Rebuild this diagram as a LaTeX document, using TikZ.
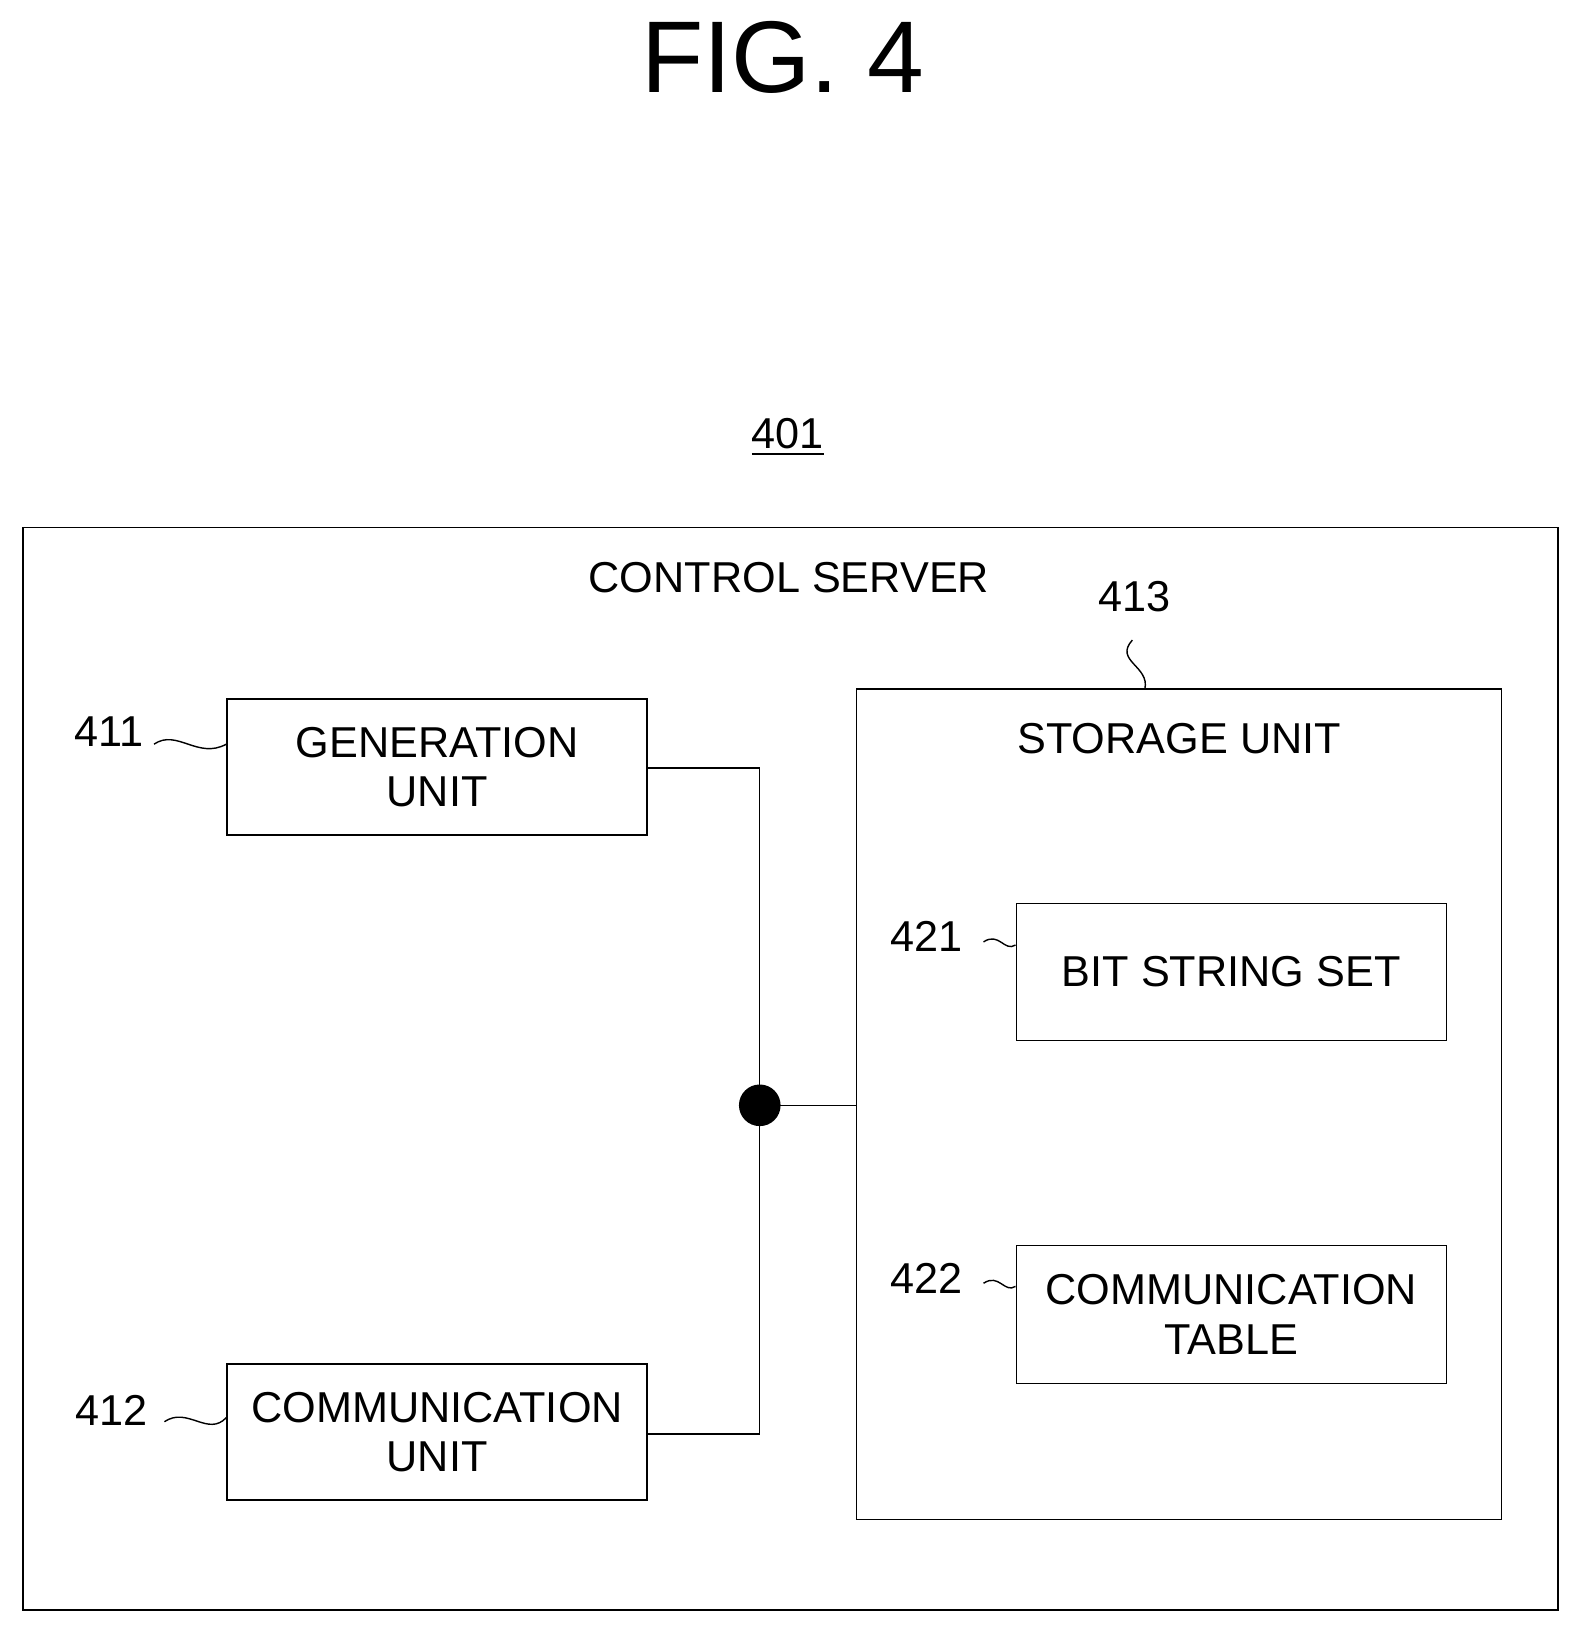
\documentclass[tikz,border=0pt]{standalone}
\usepackage{fontspec}
\setmainfont{Liberation Sans}
\usetikzlibrary{positioning}

\begin{document}
\begin{tikzpicture}[x=0.01041cm, y=-0.01041cm,
    box/.style={draw, thin, align=center, font=\fontsize{12.3}{14}\selectfont, inner sep=0pt},
    lbl/.style={font=\fontsize{12.3}{14}\selectfont},
    wiggle/.style={thin}]
            \useasboundingbox (0,0) rectangle (1520,1570);

            % 标题
            \node[font=\fontsize{29}{32}\selectfont] (title) at (752,55) {FIG. 4};
            \node[lbl] (n401) at (757,420) {\underline{401}};

            % 外框
            \draw[thin] (22,507) rectangle (1497,1547);
            \node[lbl] (server) at (758,555) {CONTROL SERVER};

            % 各单元
            \node[box, minimum width=4.2cm, minimum height=1.36cm] (gen) at (420,737) {GENERATION\\UNIT};
            \node[box, minimum width=4.2cm, minimum height=1.36cm] (comm) at (420,1376) {COMMUNICATION\\UNIT};
            \node[box, minimum width=6.45cm, minimum height=8.3cm] (store) at (1133,1061) {};
            \node[lbl] (storetxt) at (1133,710) {STORAGE UNIT};
            \node[box, minimum width=4.3cm, minimum height=1.37cm] (bits) at (1183,934) {BIT STRING SET};
            \node[box, minimum width=4.3cm, minimum height=1.38cm] (table) at (1183,1263) {COMMUNICATION\\TABLE};

            % 连接
            \fill (730,1062) circle (20) coordinate (hub);
            \draw[thin] (gen.east |- 0,738) -| (hub) |- (comm.east |- 0,1378);
            \draw[thin] (hub) -- (store.west |- hub);

            % 编号
            \node[lbl] (n411) at (105,703) {411};
            \node[lbl] (n412) at (107,1355) {412};
            \node[lbl] (n413) at (1090,573) {413};
            \node[lbl] (n421) at (890,900) {421};
            \node[lbl] (n422) at (890,1228) {422};

            \draw[wiggle] (148,715) .. controls (170,700) and (190,730) .. (gen.west |- 0,715);
            \draw[wiggle] (158,1366) .. controls (180,1351) and (200,1381) .. (comm.west |- 0,1362);
            \draw[wiggle] (1088,615) .. controls (1070,635) and (1105,640) .. (1100,662);
            \draw[wiggle] (945,905) .. controls (960,895) and (965,915) .. (bits.west |- 0,908);
            \draw[wiggle] (945,1233) .. controls (960,1223) and (965,1243) .. (table.west |- 0,1236);
        \end{tikzpicture}
\end{document}
